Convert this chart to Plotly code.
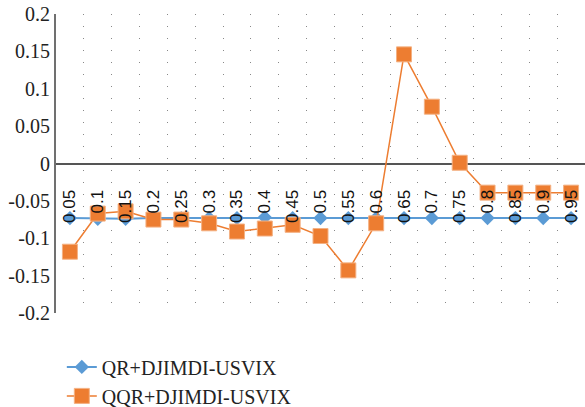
import plotly.graph_objects as go

categories = ["0.05", "0.1", "0.15", "0.2", "0.25", "0.3", "0.35", "0.4", "0.45", "0.5",
              "0.55", "0.6", "0.65", "0.7", "0.75", "0.8", "0.85", "0.9", "0.95"]
qr_values = [-0.073, -0.074, -0.074, -0.073, -0.073, -0.073, -0.073, -0.072, -0.073, -0.073,
             -0.073, -0.073, -0.073, -0.073, -0.073, -0.073, -0.073, -0.073, -0.073]
qqr_values = [-0.118, -0.067, -0.064, -0.075, -0.075, -0.080, -0.091, -0.087, -0.082, -0.097,
              -0.143, -0.080, 0.146, 0.076, 0.001, -0.039, -0.039, -0.039, -0.039]
y_ticks = [0.2, 0.15, 0.1, 0.05, 0, -0.05, -0.1, -0.15, -0.2]
y_tick_text = ["0.2", "0.15", "0.1", "0.05", "0", "-0.05", "-0.1", "-0.15", "-0.2"]

fig = go.Figure()
fig.add_trace(go.Scatter(
    x=categories, y=qr_values, name="QR+DJIMDI-USVIX", mode="lines+markers",
    line=dict(color="#5B9BD5", width=2),
    marker=dict(symbol="diamond", size=11, color="#5B9BD5"),
))
fig.add_trace(go.Scatter(
    x=categories, y=qqr_values, name="QQR+DJIMDI-USVIX", mode="lines+markers",
    line=dict(color="#ED7D31", width=1.5),
    marker=dict(symbol="square", size=15, color="#ED7D31",
                line=dict(color="#F4B183", width=1)),
))

fig.update_layout(
    width=585, height=407,
    margin=dict(l=56, r=0, t=14, b=94, autoexpand=False),
    paper_bgcolor="white", plot_bgcolor="white",
    showlegend=True,
    legend=dict(x=0.011, y=-0.115, xanchor="left", yanchor="top",
                font=dict(family="Liberation Serif", size=20, color="#222"),
                tracegroupgap=0, itemwidth=30, bgcolor="rgba(0,0,0,0)"),
    xaxis=dict(
        type="category", tickson="boundaries", automargin=False,
        showgrid=True, gridcolor="#888", griddash="1px,11px", gridwidth=1,
        showline=False, zeroline=False, ticks="",
        anchor="free", position=0.5, tickangle=-90,
        ticklabelstandoff=22,
        tickfont=dict(family="Liberation Sans", size=17, color="#111"),
        range=[-0.5, 18.5],
    ),
    yaxis=dict(
        range=[-0.2, 0.2], tickvals=y_ticks, ticktext=y_tick_text, automargin=False,
        showgrid=False, zeroline=True, zerolinecolor="#555", zerolinewidth=1.5,
        showline=True, linecolor="#707070", linewidth=2,
        ticks="", tickfont=dict(family="Liberation Serif", size=20, color="#222"),
    ),
)

fig.write_html("out.html", config={"displayModeBar": False},
               post_script="document.body.style.margin='0';")
